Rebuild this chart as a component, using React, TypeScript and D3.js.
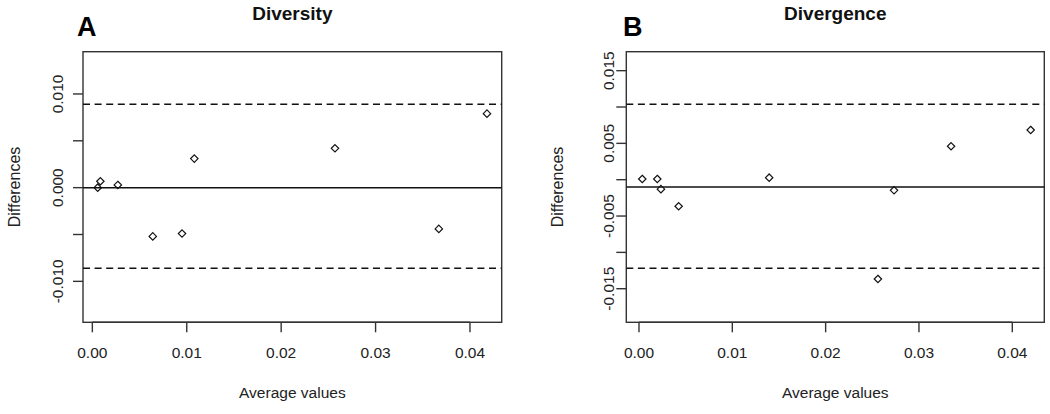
import React from "react";
import * as d3 from "d3";

// Panel A: Diversity
const diversityAvg = [0.00057, 0.00085, 0.0027, 0.0064, 0.0095, 0.0108, 0.0257, 0.0367, 0.0418];
const diversityDiff = [0.0, 0.00068, 0.00029, -0.0052, -0.0049, 0.0031, 0.0042, -0.0044, 0.0079];
const diversityMean = 0.0;
const diversityLimits = [-0.0086, 0.0089];
const diversityYTicks = [-0.01, -0.005, 0, 0.005, 0.01];
const diversityYLabels = ["-0.010", "", "0.000", "", "0.010"];

// Panel B: Divergence
const divergenceAvg = [0.00035, 0.00196, 0.00235, 0.00425, 0.01395, 0.0256, 0.02733, 0.03344, 0.04197];
const divergenceDiff = [0.0001, 0.0001, -0.0013, -0.00366, 0.00028, -0.01366, -0.00146, 0.0046, 0.00684];
const divergenceMean = -0.001;
const divergenceLimits = [-0.01219, 0.01037];
const divergenceYTicks = [-0.015, -0.01, -0.005, 0, 0.005, 0.01, 0.015];
const divergenceYLabels = ["-0.015", "", "-0.005", "", "0.005", "", "0.015"];

const xTicks = [0, 0.01, 0.02, 0.03, 0.04];
const xTickLabels = ["0.00", "0.01", "0.02", "0.03", "0.04"];

const FONT = "'Liberation Sans', Arial, sans-serif";
const TEXT = "#222";

type PanelProps = {
  letter: string;
  title: string;
  avg: number[];
  diff: number[];
  mean: number;
  limits: number[];
  yTicks: number[];
  yLabels: string[];
  box: { left: number; right: number; top: number; bottom: number };
  xDomain: [number, number];
  yDomain: [number, number];
  yLabelX: number;
  yTickLabelX: number;
  letterX: number;
};

function Panel(p: PanelProps) {
  const x = d3.scaleLinear().domain(p.xDomain).range([p.box.left, p.box.right]);
  const y = d3.scaleLinear().domain(p.yDomain).range([p.box.bottom, p.box.top]);
  const cx = (p.box.left + p.box.right) / 2;
  const cy = (p.box.top + p.box.bottom) / 2;
  const r = 3.7;
  const diamond = (px: number, py: number) =>
    `M${px},${py - r}L${px + r},${py}L${px},${py + r}L${px - r},${py}Z`;
  return (
    <g>
      <text x={p.letterX} y={36} fontFamily={FONT} fontWeight="bold" fontSize={27} fill="#000">
        {p.letter}
      </text>
      <text x={cx} y={19.5} textAnchor="middle" fontFamily={FONT} fontWeight="bold" fontSize={19} fill="#111">
        {p.title}
      </text>
      <rect
        x={p.box.left}
        y={p.box.top}
        width={p.box.right - p.box.left}
        height={p.box.bottom - p.box.top}
        fill="none"
        stroke="#333"
        strokeWidth={1.4}
      />
      {/* reference lines */}
      <line x1={p.box.left} x2={p.box.right} y1={y(p.mean)} y2={y(p.mean)} stroke="#111" strokeWidth={1.5} />
      {p.limits.map((l, i) => (
        <line
          key={i}
          x1={p.box.left}
          x2={p.box.right}
          y1={y(l)}
          y2={y(l)}
          stroke="#111"
          strokeWidth={1.6}
          strokeDasharray="7,4.6"
        />
      ))}
      {/* points */}
      {p.avg.map((a, i) => (
        <path key={i} d={diamond(x(a), y(p.diff[i]))} fill="none" stroke="#111" strokeWidth={1.2} />
      ))}
      {/* x axis */}
      <line x1={x(xTicks[0])} x2={x(xTicks[xTicks.length - 1])} y1={p.box.bottom} y2={p.box.bottom} stroke="#333" strokeWidth={1.4} />
      {xTicks.map((t, i) => (
        <g key={i}>
          <line x1={x(t)} x2={x(t)} y1={p.box.bottom} y2={p.box.bottom + 10} stroke="#333" strokeWidth={1.4} />
          <text x={x(t)} y={358} textAnchor="middle" fontFamily={FONT} fontSize={15.5} fill={TEXT}>
            {xTickLabels[i]}
          </text>
        </g>
      ))}
      <text x={cx} y={398} textAnchor="middle" fontFamily={FONT} fontSize={15.5} fill={TEXT}>
        Average values
      </text>
      {/* y axis */}
      {p.yTicks.map((t, i) => (
        <g key={i}>
          <line x1={p.box.left - 10} x2={p.box.left} y1={y(t)} y2={y(t)} stroke="#333" strokeWidth={1.4} />
          {p.yLabels[i] ? (
            <text
              transform={`translate(${p.yTickLabelX},${y(t)}) rotate(-90)`}
              textAnchor="middle"
              fontFamily={FONT}
              fontSize={15.5}
              fill={TEXT}
            >
              {p.yLabels[i]}
            </text>
          ) : null}
        </g>
      ))}
      <text
        transform={`translate(${p.yLabelX},${cy}) rotate(-90)`}
        textAnchor="middle"
        fontFamily={FONT}
        fontSize={16}
        fill={TEXT}
      >
        Differences
      </text>
    </g>
  );
}

export default function App() {
  return (
    <svg
      width={1050}
      height={414}
      style={{ position: "absolute", left: 0, top: 0, background: "#fff" }}
    >
      <rect width={1050} height={414} fill="#fff" />
      <Panel
        letter="A"
        title="Diversity"
        avg={diversityAvg}
        diff={diversityDiff}
        mean={diversityMean}
        limits={diversityLimits}
        yTicks={diversityYTicks}
        yLabels={diversityYLabels}
        box={{ left: 83, right: 501.7, top: 51.7, bottom: 322.3 }}
        xDomain={[-0.00099, 0.04336]}
        yDomain={[-0.01437, 0.01451]}
        yLabelX={20}
        yTickLabelX={63}
        letterX={77}
      />
      <Panel
        letter="B"
        title="Divergence"
        avg={divergenceAvg}
        diff={divergenceDiff}
        mean={divergenceMean}
        limits={divergenceLimits}
        yTicks={divergenceYTicks}
        yLabels={divergenceYLabels}
        box={{ left: 626.3, right: 1044.3, top: 51.7, bottom: 322.3 }}
        xDomain={[-0.00136, 0.04343]}
        yDomain={[-0.01962, 0.01761]}
        yLabelX={563}
        yTickLabelX={614}
        letterX={623}
      />
    </svg>
  );
}
